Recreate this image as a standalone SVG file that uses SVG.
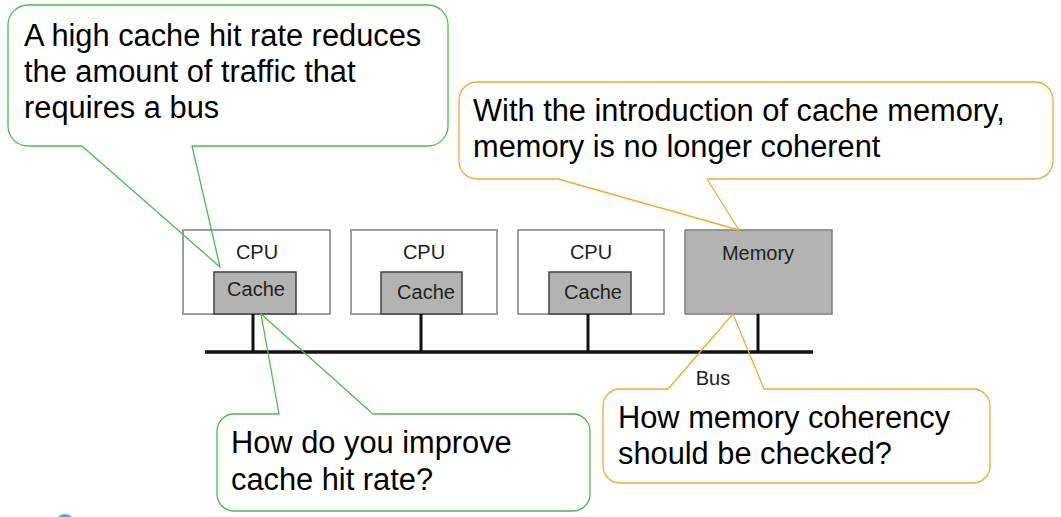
<svg xmlns="http://www.w3.org/2000/svg" width="1061" height="517" viewBox="0 0 1061 517">
<style>
  .cpu { fill: #ffffff; stroke: #7f7f7f; stroke-width: 1.5; }
  .cache { fill: #b3b3b3; stroke: #404040; stroke-width: 1.5; }
  .mem { fill: #b3b3b3; stroke: #808080; stroke-width: 1.5; }
  .lbl { font-family: "Liberation Sans", Arial, sans-serif; font-size: 20px; fill: #222222; text-anchor: middle; }
  .wire { stroke: #111111; stroke-width: 3; fill: none; }
  .bus { stroke: #111111; stroke-width: 3.5; fill: none; }
  .green { fill: none; stroke: #4cbb4c; stroke-width: 1.3; stroke-linejoin: round; }
  .orange { fill: none; stroke: #f7a733; stroke-width: 1.3; stroke-linejoin: round; }
  .note { font-family: "Liberation Sans", Arial, sans-serif; font-size: 30.8px; fill: #000000; }
</style>
<rect x="0" y="0" width="1061" height="517" fill="#ffffff"/>

<g id="cpu1">
  <rect class="cpu" x="183" y="230" width="147" height="84"/>
  <text class="lbl" x="257" y="259">CPU</text>
  <rect class="cache" x="214" y="272" width="82" height="42"/>
  <text class="lbl" x="256" y="296">Cache</text>
</g>
<g id="cpu2">
  <rect class="cpu" x="351" y="230" width="146" height="84"/>
  <text class="lbl" x="424" y="259">CPU</text>
  <rect class="cache" x="381" y="272" width="81" height="42"/>
  <text class="lbl" x="426" y="299">Cache</text>
</g>
<g id="cpu3">
  <rect class="cpu" x="518" y="230" width="146" height="84"/>
  <text class="lbl" x="591" y="259">CPU</text>
  <rect class="cache" x="549" y="272" width="82" height="42"/>
  <text class="lbl" x="593" y="299">Cache</text>
</g>
<g id="memory">
  <rect class="mem" x="685" y="230" width="147" height="84"/>
  <text class="lbl" x="758" y="260">Memory</text>
</g>
<g id="bus">
  <line class="bus" x1="205" y1="352" x2="813" y2="352"/>
  <text class="lbl" x="713" y="385">Bus</text>
</g>

<g id="connectors">
  <line class="wire" x1="253" y1="314" x2="253" y2="352"/>
  <line class="wire" x1="421" y1="314" x2="421" y2="352"/>
  <line class="wire" x1="588" y1="314" x2="588" y2="352"/>
  <line class="wire" x1="758" y1="314" x2="758" y2="352"/>
</g>

<g id="callout-hit-rate">
  <path class="green" d="M28,5 H428 A20,20 0 0 1 448,25 V126 A20,20 0 0 1 428,146 H192 L220,267 L82,146 H28 A20,20 0 0 1 8,126 V25 A20,20 0 0 1 28,5 Z"/>
  <text class="note" x="24" y="46">A high cache hit rate reduces</text>
  <text class="note" x="24" y="82">the amount of traffic that</text>
  <text class="note" x="24" y="118">requires a bus</text>
</g>

<g id="callout-coherent">
  <path class="orange" d="M477,82 H1035 A18,18 0 0 1 1053,100 V161 A18,18 0 0 1 1035,179 H707 L739,230 L558,179 H477 A18,18 0 0 1 459,161 V100 A18,18 0 0 1 477,82 Z"/>
  <text class="note" x="473" y="121">With the introduction of cache memory,</text>
  <text class="note" x="473" y="157">memory is no longer coherent</text>
</g>

<g id="callout-improve">
  <path class="green" d="M234,414 H279 L261,314 L373,414 H573 A17,17 0 0 1 590,431 V494 A17,17 0 0 1 573,511 H234 A17,17 0 0 1 217,494 V431 A17,17 0 0 1 234,414 Z"/>
  <text class="note" x="231" y="453">How do you improve</text>
  <text class="note" x="231" y="490">cache hit rate?</text>
</g>

<g id="callout-check">
  <path class="orange" d="M620,389 H668 L733,314 L764,389 H973 A17,17 0 0 1 990,406 V466 A17,17 0 0 1 973,483 H620 A17,17 0 0 1 603,466 V406 A17,17 0 0 1 620,389 Z"/>
  <text class="note" x="618" y="428">How memory coherency</text>
  <text class="note" x="618" y="464">should be checked?</text>
</g>

<circle cx="65" cy="524" r="10" fill="#4aa8e0"/>
</svg>
